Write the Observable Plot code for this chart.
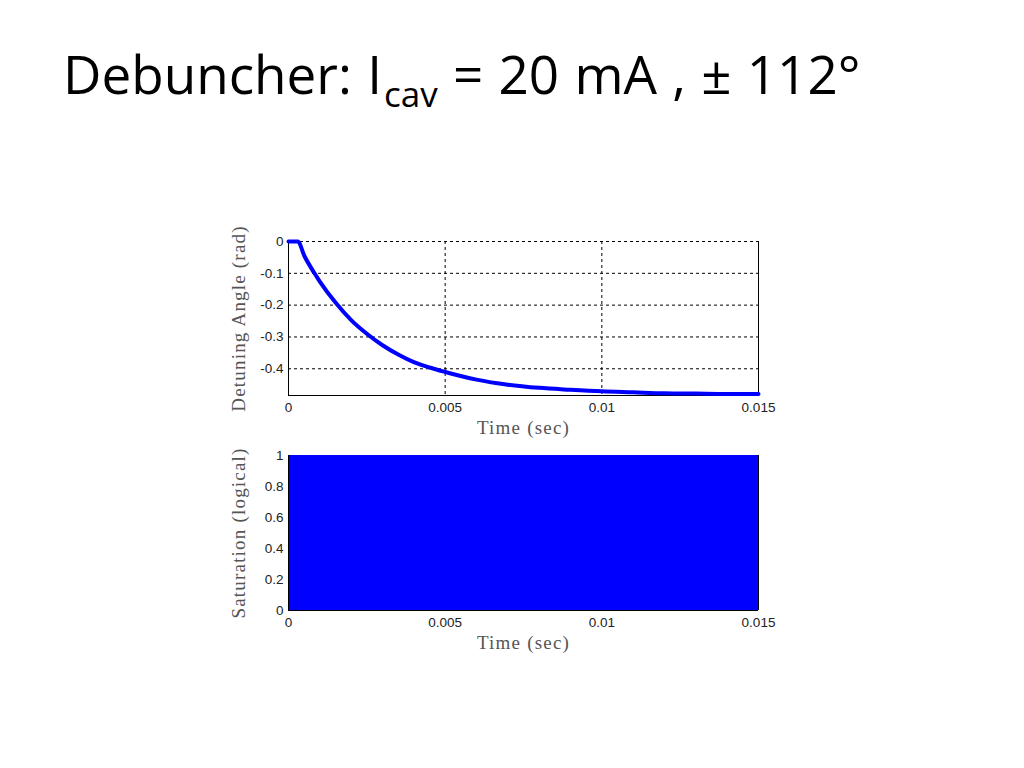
<!DOCTYPE html>
<html>
<head>
<meta charset="utf-8">
<script src="https://cdn.jsdelivr.net/npm/d3@7"></script>
<script src="https://cdn.jsdelivr.net/npm/@observablehq/plot@0.6"></script>
<style>
  html, body { margin: 0; padding: 0; background: #fff; }
  body { width: 1024px; height: 768px; position: relative; overflow: hidden; }
  #title { position: absolute; left: 63px; top: 47px; font-family: "Open Sans", sans-serif; font-size: 53px; color: #000; white-space: nowrap; line-height: 1; word-spacing: 1.5px; }
  #title sub { font-size: 35px; vertical-align: -0.36em; line-height: 0; margin-left: 2px; }
  #top { position: absolute; left: 220px; top: 220px; }
  #bot { position: absolute; left: 220px; top: 445px; }
</style>
</head>
<body>
<div id="title">Debuncher: I<sub>cav</sub> = 20 mA , ± 112°</div>
<div id="top"></div>
<div id="bot"></div>
<script>
// Detuning angle (rad) vs time (sec)
const time = [0, 0.0003, 0.0005, 0.00083, 0.001, 0.0015, 0.002, 0.0025, 0.003, 0.0035, 0.004, 0.0045, 0.005, 0.006, 0.007, 0.008, 0.009, 0.01, 0.011, 0.012, 0.013, 0.014, 0.015];
const detuning = [0, 0, -0.044, -0.1, -0.126, -0.192, -0.247, -0.29, -0.326, -0.355, -0.379, -0.396, -0.41, -0.434, -0.45, -0.46, -0.466, -0.471, -0.474, -0.477, -0.478, -0.479, -0.479];
// Saturation (logical) vs time
const satTime = [0, 0.015];
const saturation = [1, 1];
// ticks
const xTicks = [0, 0.005, 0.01, 0.015];
const xTickLabels = ["0", "0.005", "0.01", "0.015"];
const yTicksTop = [0, -0.1, -0.2, -0.3, -0.4];
const yTicksBot = [0, 0.2, 0.4, 0.6, 0.8, 1];

const detData = time.map((t, i) => ({t, v: detuning[i]}));
const satData = satTime.map((t, i) => ({t, s: saturation[i]}));

const tickFont = "Liberation Sans, Arial, sans-serif";
const xFmt = d => xTickLabels[xTicks.indexOf(d)] ?? String(d);

const baseStyle = {fontFamily: tickFont, fontSize: "13.5px", color: "#222", background: "transparent", overflow: "visible"};

const yBotTop = -0.484;
const topPlot = Plot.plot({
  width: 560, style: baseStyle,
  height: 225, marginLeft: 68, marginRight: 22, marginTop: 21, marginBottom: 50,
  x: {domain: [0, 0.015]},
  y: {domain: [yBotTop, 0]},
  marks: [
    Plot.gridX(xTicks.slice(1, 3), {stroke: "#000", strokeOpacity: 1, strokeDasharray: "3,3", strokeWidth: 1}),
    Plot.gridY(yTicksTop, {stroke: "#000", strokeOpacity: 1, strokeDasharray: "3,3", strokeWidth: 1}),
    Plot.ruleX([0, 0.015], {stroke: "#000", strokeWidth: 1}),
    Plot.ruleY([yBotTop], {stroke: "#000", strokeWidth: 1}),
    Plot.lineY(detData, {x: "t", y: "v", stroke: "#0000ff", strokeWidth: 4, curve: "monotone-x"}),
    Plot.axisX({ticks: xTicks, tickFormat: xFmt, tickSize: 0, tickPadding: 7, label: "Time (sec)", labelAnchor: "center", labelArrow: "none", labelOffset: 38}),
    Plot.axisY({ticks: yTicksTop, tickFormat: d => d === 0 ? "0" : String(d), tickSize: 0, tickPadding: 5, label: "Detuning Angle (rad)", labelAnchor: "center", labelArrow: "none", labelOffset: 57})
  ]
});

const botPlot = Plot.plot({
  width: 560, style: baseStyle,
  height: 215, marginLeft: 68, marginRight: 22, marginTop: 10, marginBottom: 50,
  x: {domain: [0, 0.015]},
  y: {domain: [0, 1]},
  marks: [
    Plot.areaY(satData, {x: "t", y: "s", fill: "#0000ff", fillOpacity: 1}),
    Plot.ruleX([0, 0.015], {stroke: "#000", strokeWidth: 1}),
    Plot.ruleY([0], {stroke: "#000", strokeWidth: 1}),
    Plot.axisX({ticks: xTicks, tickFormat: xFmt, tickSize: 0, tickPadding: 7, label: "Time (sec)", labelAnchor: "center", labelArrow: "none", labelOffset: 38}),
    Plot.axisY({ticks: yTicksBot, tickFormat: d => String(d), tickSize: 0, tickPadding: 5, label: "Saturation (logical)", labelAnchor: "center", labelArrow: "none", labelOffset: 57})
  ]
});

document.getElementById("top").appendChild(topPlot);
document.getElementById("bot").appendChild(botPlot);

// axis label styling (serif, grey, larger)
for (const svg of [topPlot, botPlot]) {
  svg.querySelectorAll("g[aria-label$='axis label']").forEach(g => {
    g.setAttribute("font-family", "Liberation Serif, serif");
    g.setAttribute("font-size", "19");
    g.setAttribute("fill", "#555");
    g.style.letterSpacing = "1.2px";
  });
  svg.querySelectorAll("g[aria-label$='axis label'] text").forEach(t => {
    t.style.fontFamily = "Liberation Serif, serif";
    t.style.fontSize = "19px";
    t.style.letterSpacing = "1.2px";
    t.setAttribute("fill", "#555");
  });
}
</script>
</body>
</html>
